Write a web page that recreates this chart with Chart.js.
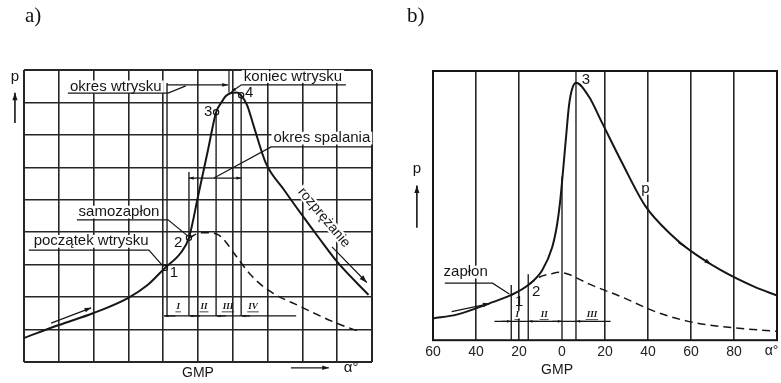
<!DOCTYPE html>
<html lang="pl">
<head>
<meta charset="utf-8">
<title>Wykres p - α</title>
<script src="https://cdn.jsdelivr.net/npm/chart.js@4.4.1/dist/chart.umd.min.js"></script>
<style>
  body { margin: 0; background: #fff; }
  #page { position: relative; width: 781px; height: 383px; overflow: hidden; }
  .box { position: absolute; top: 0; height: 383px; }
  .tag { position: absolute; top: 3px; font: 21px "Liberation Serif", "Times New Roman", serif; color: #111; }
</style>
</head>
<body>
<div id="page">
  <div class="box" style="left:0;width:390px"><canvas id="chartA" width="390" height="383"></canvas></div>
  <div class="box" style="left:390px;width:391px"><canvas id="chartB" width="391" height="383"></canvas></div>
  <div class="tag" style="left:25px">a)</div>
  <div class="tag" style="left:407px">b)</div>
</div>
<script>
// a) pressure p vs crank angle (deg), GMP = 0
const angleA = [-50, -40, -30, -20, -14.4, -9.5, -5, -2.6, 0, 2.9, 5.2, 6.6, 8, 9.5, 11.2, 12.4, 14.1, 16.1, 19.5, 24.7, 30.5, 34.5, 40.2, 49];
const pressA = [0.74, 1.14, 1.51, 1.98, 2.38, 2.9, 3.36, 3.83, 5.1, 6.55, 7.7, 7.98, 8.2, 8.29, 8.31, 8.22, 7.92, 7.24, 6.13, 5.31, 4.44, 3.86, 3.06, 2.07];
// dashed: compression only, no combustion
const angleA2 = [-2.6, 0.9, 2.9, 6, 8, 10.3, 15.2, 20.1, 29.6, 39.1, 46.8];
const pressA2 = [3.83, 3.98, 3.98, 3.91, 3.7, 3.36, 2.68, 2.22, 1.7, 1.23, 0.92];
// points 1-4
const pointAngleA = [-9.5, -2.6, 5.2, 12.4];
// vertical lines of the phases
const phaseAngleA = [-8.9, -2.6, 5.2, 12.4];
const phaseTopA = [8.6, 5.86, 7.7, 8.22];
const phaseBaseA = 1.42;

// b) spark ignition engine
const angleB = [-60, -49, -34, -23.6, -15.7, -9.2, -4.6, -2.3, -0.9, 1.8, 3.2, 4.6, 6.5, 12.5, 18.5, 27.7, 38.8, 50.8, 59.6, 73.9, 89.6, 100];
const pressB = [0.81, 0.95, 1.36, 1.68, 2.05, 2.6, 3.44, 4.29, 5.13, 7.47, 8.68, 9.3, 9.56, 9.05, 8.1, 6.63, 4.98, 3.92, 3.33, 2.6, 1.98, 1.66];
const angleB2 = [-15.7, -10.6, -5, -1.4, 3, 12.5, 27.7, 43.4, 58.7, 73.9, 100];
const pressB2 = [2.05, 2.34, 2.47, 2.52, 2.45, 2.09, 1.61, 1.06, 0.7, 0.51, 0.33];
const phaseAngleB = [-23.6, -15.7, 0, 6.5];
const phaseTopB = [2.05, 2.45, 6.08, 10];

Chart.defaults.font.family = '"Liberation Sans", Arial, sans-serif';
Chart.defaults.color = '#161616';

const pairs = (xs, ys) => xs.map((x, i) => ({x: x, y: ys[i]}));
const ink = '#161616';

function arrow(ctx, x1, y1, x2, y2, head, both) {
  ctx.beginPath(); ctx.moveTo(x1, y1); ctx.lineTo(x2, y2); ctx.stroke();
  if (!head) return;
  const tip = (xa, ya, xb, yb) => {
    const a = Math.atan2(yb - ya, xb - xa);
    ctx.beginPath();
    ctx.moveTo(xb, yb);
    ctx.lineTo(xb - head * Math.cos(a - 0.33), yb - head * Math.sin(a - 0.33));
    ctx.lineTo(xb - head * Math.cos(a + 0.33), yb - head * Math.sin(a + 0.33));
    ctx.closePath(); ctx.fill();
  };
  tip(x1, y1, x2, y2);
  if (both) tip(x2, y2, x1, y1);
}

const fontOf = n => n.font || ((n.size || 15) + 'px "Liberation Sans", Arial, sans-serif');

// draws labels, leader lines and arrows given in data units
const notes = {
  id: 'notes',
  beforeDatasetsDraw(chart, args, o) {
    const {ctx} = chart, sx = chart.scales.x, sy = chart.scales.y;
    ctx.save();
    ctx.fillStyle = '#fff';
    (o.texts || []).filter(n => n.box).forEach(n => {
      ctx.font = fontOf(n);
      const w = ctx.measureText(n.t).width + 4, h = (n.size || 15) * 0.85;
      ctx.save();
      ctx.translate(sx.getPixelForValue(n.x), sy.getPixelForValue(n.y));
      ctx.rotate((n.rot || 0) * Math.PI / 180);
      ctx.fillRect(-w / 2, -h / 2, w, h);
      ctx.restore();
    });
    ctx.restore();
  },
  afterDatasetsDraw(chart, args, o) {
    const {ctx} = chart, sx = chart.scales.x, sy = chart.scales.y;
    const P = p => [sx.getPixelForValue(p[0]), sy.getPixelForValue(p[1])];
    ctx.save();
    ctx.strokeStyle = ink; ctx.fillStyle = ink;
    if (o.frame) {
      const a = chart.chartArea;
      ctx.lineWidth = 2;
      ctx.strokeRect(a.left, a.top, a.right - a.left, a.bottom - a.top);
    }
    ctx.lineWidth = 1.2;
    (o.lines || []).forEach(l => {
      ctx.beginPath();
      l.forEach((p, i) => { const q = P(p); i ? ctx.lineTo(q[0], q[1]) : ctx.moveTo(q[0], q[1]); });
      ctx.stroke();
    });
    (o.arrows || []).forEach(a => {
      const f = P(a.from), t = P(a.to);
      ctx.lineWidth = a.w || 1.2;
      arrow(ctx, f[0], f[1], t[0], t[1], a.head, a.both);
    });
    ctx.textAlign = 'center'; ctx.textBaseline = 'middle';
    (o.texts || []).forEach(n => {
      ctx.font = fontOf(n);
      const q = P([n.x, n.y]);
      ctx.save();
      ctx.translate(q[0], q[1]);
      ctx.rotate((n.rot || 0) * Math.PI / 180);
      ctx.fillText(n.t, 0, 0);
      if (n.under) {
        const w = ctx.measureText(n.t).width;
        ctx.lineWidth = 0.8;
        ctx.beginPath(); ctx.moveTo(-w / 2 - 1, 5); ctx.lineTo(w / 2 + 1, 5); ctx.stroke();
      }
      ctx.restore();
    });
    ctx.restore();
  }
};

const roman = 'italic bold 9px "Liberation Serif", serif';
const curve = {borderColor: ink, pointRadius: 0, fill: false, cubicInterpolationMode: 'monotone'};
const vline = (a, lo, hi) => ({data: [{x: a, y: lo}, {x: a, y: hi}], borderColor: '#222', borderWidth: 1.4, pointRadius: 0});
const edgeWidth = (min, max) => c => (c.tick && (c.tick.value === min || c.tick.value === max)) ? 2 : 1.6;

new Chart(document.getElementById('chartA'), {
  type: 'line',
  data: {
    datasets: [
      {...curve, data: pairs(angleA, pressA), borderWidth: 2},
      {...curve, data: pairs(angleA2, pressA2), borderWidth: 1.5, borderDash: [8, 5]},
      ...phaseAngleA.map((a, i) => vline(a, phaseBaseA, phaseTopA[i])),
      {type: 'scatter', data: pointAngleA.map(a => ({x: a, y: pressA[angleA.indexOf(a)]})),
       pointRadius: 2.6, pointBackgroundColor: '#fff', pointBorderColor: ink, pointBorderWidth: 1.2}
    ]
  },
  options: {
    responsive: false, animation: false, events: [],
    layout: {padding: {left: 24, right: 18, top: 70, bottom: 21}},
    scales: {
      x: {type: 'linear', min: -50, max: 50, ticks: {stepSize: 10, display: false},
          grid: {color: '#262626', lineWidth: edgeWidth(-50, 50), drawTicks: false}, border: {display: false}},
      y: {min: 0, max: 9, ticks: {stepSize: 1, display: false},
          grid: {color: '#262626', lineWidth: edgeWidth(0, 9), drawTicks: false}, border: {display: false}}
    },
    plugins: {
      legend: {display: false}, tooltip: {enabled: false},
      notes: {
        texts: [
          {t: 'okres wtrysku', x: -23.6, y: 8.48, box: true},
          {t: 'koniec wtrysku', x: 27.3, y: 8.8, box: true},
          {t: 'okres spalania', x: 35.6, y: 6.9, box: true},
          {t: 'samozapłon', x: -22.7, y: 4.62, box: true},
          {t: 'początek wtrysku', x: -30.7, y: 3.72, box: true},
          {t: 'rozprężanie', x: 36.2, y: 4.45, rot: 50, size: 14, box: true},
          {t: '1', x: -6.9, y: 2.74}, {t: '2', x: -5.7, y: 3.67},
          {t: '3', x: 2.9, y: 7.71}, {t: '4', x: 14.7, y: 8.29},
          {t: 'I', x: -5.7, y: 1.7, font: roman, under: true},
          {t: 'II', x: 1.7, y: 1.7, font: roman, under: true},
          {t: 'III', x: 8.6, y: 1.7, font: roman, under: true},
          {t: 'IV', x: 15.8, y: 1.7, font: roman, under: true},
          {t: 'GMP', x: 0, y: -0.34, size: 14},
          {t: 'α°', x: 44, y: -0.18, size: 15},
          {t: 'p', x: -52.6, y: 8.79}
        ],
        lines: [
          [[-37.4, 8.29], [-8.6, 8.29], [-3.5, 8.51]],
          [[42.5, 8.54], [12.4, 8.54]],
          [[8.9, 8.3], [8.9, 9]],
          [[49.7, 6.63], [21, 6.63], [4.6, 5.67]],
          [[-34.8, 4.38], [-8.6, 4.38], [-2.9, 3.88]],
          [[-48.6, 3.45], [-14.1, 3.45], [-10, 2.95]],
          [[-9.8, phaseBaseA], [28.2, phaseBaseA]]
        ],
        arrows: [
          {from: [-8.9, 8.54], to: [8.6, 8.54], head: 6},
          {from: [12.4, 8.54], to: [9.6, 8.33], head: 5},
          {from: [-2.6, 5.67], to: [12.4, 5.67], head: 5, both: true},
          {from: [-42.2, 1.2], to: [-30.7, 1.67], head: 7},
          {from: [38.5, 3.55], to: [48.5, 2.45], head: 8},
          {from: [-52.6, 7.37], to: [-52.6, 8.3], head: 8, w: 1.6},
          {from: [26.7, -0.18], to: [37.6, -0.18], head: 7, w: 1.4},
          {from: [-6.5, phaseBaseA], to: [-9.6, phaseBaseA], head: 4},
          {from: [0.5, phaseBaseA], to: [-2.4, phaseBaseA], head: 4},
          {from: [8, phaseBaseA], to: [5.4, phaseBaseA], head: 4},
          {from: [15, phaseBaseA], to: [12.6, phaseBaseA], head: 4}
        ]
      }
    }
  },
  plugins: [notes]
});

new Chart(document.getElementById('chartB'), {
  type: 'line',
  data: {
    datasets: [
      {...curve, data: pairs(angleB, pressB), borderWidth: 2},
      {...curve, data: pairs(angleB2, pressB2), borderWidth: 1.5, borderDash: [8, 5]},
      ...phaseAngleB.map((a, i) => vline(a, 0, phaseTopB[i]))
    ]
  },
  options: {
    responsive: false, animation: false, events: [],
    layout: {padding: {left: 43, right: 4, top: 71, bottom: 18}},
    scales: {
      x: {type: 'linear', min: -60, max: 100,
          ticks: {stepSize: 20, padding: 4, color: '#222', font: {size: 14},
                  callback: v => v === 100 ? '' : String(Math.abs(v))},
          grid: {color: c => (c.tick && c.tick.value === 0) ? 'rgba(0,0,0,0)' : '#262626',
                 lineWidth: edgeWidth(-60, 100), drawTicks: false},
          border: {display: false}},
      y: {display: false, min: 0, max: 10}
    },
    plugins: {
      legend: {display: false}, tooltip: {enabled: false},
      notes: {
        frame: true,
        texts: [
          {t: 'zapłon', x: -44.8, y: 2.53, box: true},
          {t: '1', x: -19.9, y: 1.43}, {t: '2', x: -12, y: 1.79}, {t: '3', x: 11.1, y: 9.67},
          {t: 'p', x: 38.8, y: 5.64, box: true},
          {t: 'I', x: -20.8, y: 0.95, font: roman, under: true, box: true, size: 9},
          {t: 'II', x: -8.3, y: 0.95, font: roman, under: true, box: true, size: 9},
          {t: 'III', x: 13.9, y: 0.95, font: roman, under: true, box: true, size: 9},
          {t: 'GMP', x: -2.3, y: -1.1, size: 14},
          {t: 'α°', x: 97.5, y: -0.4, size: 14},
          {t: 'p', x: -67.5, y: 6.37}
        ],
        lines: [
          [[-54.5, 2.12], [-32.3, 2.12], [-24.5, 1.72]],
          [[-31.4, 0.7], [22.6, 0.7]]
        ],
        arrows: [
          {from: [-51.3, 1.06], to: [-33.7, 1.36], head: 7},
          {from: [54.1, 3.63], to: [69.3, 2.82], head: 7},
          {from: [-67.5, 4.18], to: [-67.5, 5.75], head: 8, w: 1.6},
          {from: [-28, 0.7], to: [-23.8, 0.7], head: 4},
          {from: [-11, 0.7], to: [-15.5, 0.7], head: 4},
          {from: [-4.5, 0.7], to: [-0.2, 0.7], head: 4},
          {from: [11, 0.7], to: [6.7, 0.7], head: 4}
        ]
      }
    }
  },
  plugins: [notes]
});
</script>
</body>
</html>
